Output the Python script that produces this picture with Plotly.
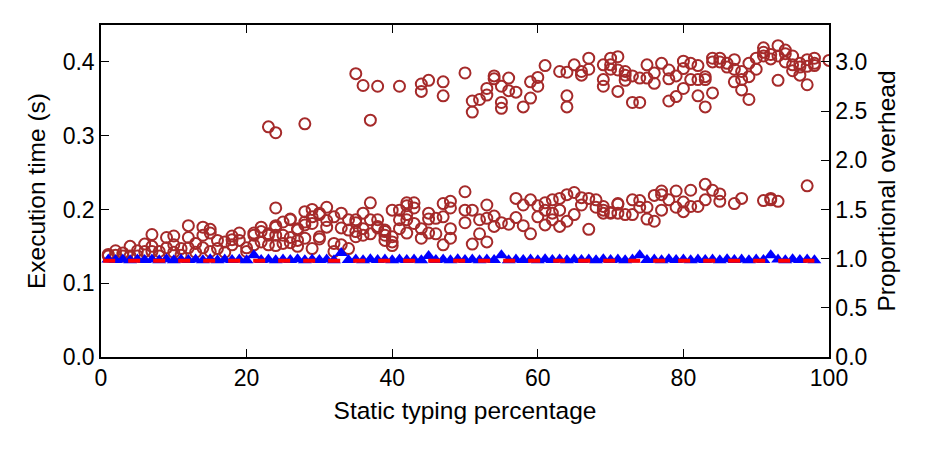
import plotly.graph_objects as go

# ---- data ----
# lower band of execution times (static typing %, seconds)
lower_band = [
    (1, 0.137), (1, 0.139), (2, 0.144), (2, 0.138), (3, 0.141), (3, 0.137),
    (4, 0.150), (4, 0.137), (5, 0.144), (5, 0.137), (6, 0.153), (6, 0.143),
    (7, 0.166), (7, 0.150), (7, 0.143), (8, 0.143), (8, 0.137), (9, 0.162), (9, 0.148),
    (10, 0.164), (10, 0.152), (10, 0.142), (11, 0.147), (11, 0.138),
    (12, 0.178), (12, 0.162), (12, 0.148), (13, 0.154), (13, 0.142),
    (14, 0.176), (14, 0.165), (14, 0.148), (15, 0.173), (15, 0.168), (15, 0.143),
    (16, 0.158), (16, 0.147), (17, 0.156), (17, 0.142),
    (18, 0.164), (18, 0.159), (18, 0.152), (19, 0.168), (19, 0.158),
    (20, 0.148), (20, 0.143), (21, 0.168), (21, 0.165), (21, 0.152),
    (22, 0.176), (22, 0.170), (22, 0.156), (23, 0.167), (23, 0.165), (23, 0.152),
    (24, 0.202), (24, 0.178), (24, 0.176), (24, 0.165), (24, 0.151),
    (25, 0.183), (25, 0.165), (25, 0.154),
    (26, 0.187), (26, 0.186), (26, 0.162), (26, 0.155),
    (27, 0.174), (27, 0.172), (27, 0.158), (27, 0.150),
    (28, 0.197), (28, 0.183), (28, 0.179), (28, 0.161),
    (29, 0.200), (29, 0.190), (29, 0.181), (29, 0.147),
    (30, 0.195), (30, 0.193), (30, 0.163), (30, 0.160),
    (31, 0.203), (31, 0.185), (31, 0.176), (32, 0.190), (32, 0.154), (32, 0.143),
    (33, 0.195), (33, 0.175), (33, 0.152), (34, 0.186), (34, 0.172), (34, 0.147),
    (35, 0.186), (35, 0.182), (35, 0.170), (35, 0.163),
    (36, 0.195), (36, 0.174), (36, 0.165), (37, 0.209), (37, 0.186), (37, 0.167),
    (38, 0.186), (38, 0.177), (38, 0.175),
    (39, 0.172), (39, 0.170), (39, 0.165), (39, 0.158),
    (40, 0.199), (40, 0.163), (40, 0.156), (40, 0.151),
    (41, 0.199), (41, 0.186), (41, 0.174),
    (42, 0.209), (42, 0.205), (42, 0.193), (42, 0.186), (42, 0.168),
    (43, 0.209), (43, 0.202), (43, 0.181), (44, 0.174), (44, 0.161),
    (45, 0.195), (45, 0.187), (45, 0.168), (46, 0.188), (46, 0.167),
    (47, 0.208), (47, 0.190), (47, 0.152),
    (48, 0.211), (48, 0.202), (48, 0.174), (48, 0.161),
    (50, 0.224), (50, 0.199), (50, 0.182), (51, 0.199), (51, 0.153),
    (52, 0.186), (52, 0.167), (53, 0.206), (53, 0.188), (53, 0.156),
    (54, 0.191), (54, 0.177), (55, 0.182), (56, 0.180),
    (57, 0.215), (57, 0.189), (58, 0.206), (58, 0.178), (59, 0.213), (59, 0.167),
    (60, 0.205), (60, 0.190), (61, 0.209), (61, 0.199), (61, 0.179),
    (62, 0.213), (62, 0.195), (62, 0.186), (63, 0.215), (63, 0.199), (63, 0.177),
    (64, 0.220), (64, 0.184), (65, 0.223), (65, 0.193), (66, 0.216), (66, 0.206),
    (67, 0.215), (67, 0.173), (68, 0.213), (68, 0.203),
    (69, 0.204), (69, 0.199), (69, 0.195), (70, 0.196), (70, 0.195),
    (71, 0.208), (71, 0.207), (71, 0.195), (72, 0.193), (73, 0.213), (73, 0.193),
    (74, 0.212), (74, 0.203), (75, 0.203), (75, 0.187), (76, 0.219), (76, 0.184),
    (77, 0.225), (77, 0.220), (77, 0.199), (78, 0.213), (79, 0.225), (79, 0.203),
    (80, 0.210), (80, 0.197), (81, 0.226), (81, 0.204), (82, 0.204),
    (83, 0.234), (83, 0.213), (84, 0.226), (85, 0.221), (85, 0.211),
    (87, 0.208), (88, 0.215), (91, 0.212), (92, 0.215), (92, 0.213), (93, 0.211),
    (97, 0.232),
]

# upper band of execution times (static typing %, seconds)
upper_band = [
    (23, 0.312), (24, 0.304), (28, 0.316), (35, 0.384), (36, 0.368), (37, 0.321),
    (38, 0.367), (41, 0.367), (44, 0.370), (44, 0.360), (45, 0.375),
    (47, 0.373), (47, 0.354), (50, 0.385), (51, 0.347), (51, 0.332), (52, 0.349),
    (53, 0.355), (53, 0.364), (54, 0.381), (54, 0.377),
    (55, 0.367), (55, 0.345), (55, 0.337), (56, 0.378), (56, 0.361), (57, 0.359),
    (58, 0.339), (59, 0.373), (59, 0.351), (60, 0.379), (60, 0.367), (61, 0.395),
    (63, 0.387), (64, 0.386), (64, 0.354), (64, 0.339), (65, 0.396),
    (66, 0.387), (66, 0.382), (67, 0.405), (67, 0.390),
    (69, 0.396), (69, 0.376), (69, 0.367), (70, 0.405), (70, 0.396), (70, 0.390),
    (71, 0.407), (71, 0.389), (71, 0.360), (72, 0.387), (72, 0.382), (72, 0.375),
    (73, 0.381), (73, 0.345), (74, 0.378), (74, 0.345), (75, 0.396), (75, 0.378),
    (76, 0.385), (76, 0.371), (77, 0.398), (78, 0.389), (78, 0.377), (78, 0.347),
    (79, 0.381), (79, 0.353), (80, 0.401), (80, 0.391), (80, 0.364),
    (81, 0.398), (81, 0.376), (82, 0.395), (82, 0.376), (82, 0.354),
    (83, 0.380), (83, 0.376), (83, 0.339), (84, 0.405), (84, 0.400), (84, 0.358),
    (85, 0.405), (85, 0.400), (86, 0.398), (86, 0.393),
    (87, 0.403), (87, 0.390), (87, 0.373), (88, 0.387), (88, 0.376), (88, 0.362),
    (89, 0.398), (89, 0.380), (89, 0.349), (90, 0.405), (90, 0.390),
    (91, 0.419), (91, 0.413), (91, 0.408), (92, 0.410), (92, 0.404),
    (93, 0.422), (93, 0.408), (93, 0.375), (94, 0.416), (94, 0.411), (94, 0.400),
    (95, 0.408), (95, 0.396), (95, 0.388), (96, 0.398), (96, 0.393), (96, 0.382),
    (97, 0.403), (97, 0.394), (97, 0.369), (98, 0.405), (98, 0.398), (98, 0.395),
    (100, 0.402),
]

# fully-typed / reference runs (blue triangles)
typed_x = list(range(1, 99))
typed_time = [
    0.132, 0.1315, 0.132, 0.131, 0.132, 0.1315, 0.132, 0.131, 0.1325, 0.131,
    0.132, 0.1315, 0.132, 0.131, 0.1325, 0.131, 0.132, 0.1315, 0.132, 0.131,
    0.138, 0.1315, 0.132, 0.131, 0.132, 0.1315, 0.1325, 0.131, 0.132, 0.1315,
    0.132, 0.131, 0.141, 0.1315, 0.132, 0.131, 0.1325, 0.1315, 0.132, 0.131,
    0.132, 0.1315, 0.132, 0.131, 0.137, 0.1315, 0.132, 0.131, 0.1325, 0.1315,
    0.132, 0.131, 0.132, 0.1315, 0.138, 0.131, 0.132, 0.1315, 0.132, 0.131,
    0.1325, 0.1315, 0.132, 0.131, 0.132, 0.1315, 0.132, 0.131, 0.1325, 0.1315,
    0.132, 0.131, 0.132, 0.138, 0.1315, 0.132, 0.131, 0.1325, 0.1315, 0.132,
    0.131, 0.132, 0.1315, 0.132, 0.131, 0.1325, 0.1315, 0.132, 0.131, 0.132,
    0.1315, 0.138, 0.132, 0.131, 0.1325, 0.1315, 0.132, 0.131,
]

# untyped baseline (red dashed line)
baseline_x = [0.3, 98]
baseline_time = [0.1305, 0.1305]

# axes
x_ticks = [0, 20, 40, 60, 80, 100]
left_ticks = [0.0, 0.1, 0.2, 0.3, 0.4]
right_ticks = [0.0, 0.5, 1.0, 1.5, 2.0, 2.5, 3.0]
left_range = [0, 0.45]
right_range = [0, 3.375]

FONT = "Liberation Sans, Arial, Helvetica, sans-serif"
BROWN = "#A52A2A"
TITLE_FONT = dict(family=FONT, size=24.5, color="black")

fig = go.Figure()
fig.add_trace(go.Scatter(
    x=[p[0] for p in lower_band], y=[p[1] for p in lower_band],
    mode="markers", showlegend=False,
    marker=dict(symbol="circle-open", size=11, color=BROWN, line=dict(width=2, color=BROWN)),
))
fig.add_trace(go.Scatter(
    x=[p[0] for p in upper_band], y=[p[1] for p in upper_band],
    mode="markers", showlegend=False,
    marker=dict(symbol="circle-open", size=11, color=BROWN, line=dict(width=2, color=BROWN)),
))
fig.add_trace(go.Scatter(
    x=typed_x, y=typed_time, mode="markers", showlegend=False,
    marker=dict(symbol="triangle-up", size=12, color="blue", line=dict(width=0)),
))
fig.add_trace(go.Scatter(
    x=baseline_x, y=baseline_time, mode="lines", showlegend=False,
    line=dict(color="red", width=4, dash="12px,13px"),
))
fig.add_trace(go.Scatter(x=[], y=[], yaxis="y2", showlegend=False))

axis_common = dict(
    showgrid=False, zeroline=False, showline=True, linecolor="black", linewidth=1.5,
    ticks="inside", ticklen=8, tickwidth=1.2, tickcolor="black",
    tickfont=dict(family=FONT, size=23, color="black"),
)

fig.update_layout(
    width=930, height=450,
    margin=dict(l=101, r=101, t=25, b=93),
    paper_bgcolor="white", plot_bgcolor="white",
    xaxis=dict(range=[0, 100], tickvals=x_ticks, mirror="ticks",
               title=dict(text="Static typing percentage", font=TITLE_FONT, standoff=12),
               **axis_common),
    yaxis=dict(range=left_range, tickvals=left_ticks, tickformat=".1f", mirror=True,
               title=dict(text="Execution time (s)", font=TITLE_FONT, standoff=10),
               **axis_common),
    yaxis2=dict(range=right_range, tickvals=right_ticks, tickformat=".1f", overlaying="y", side="right",
                title=dict(text="Proportional overhead", font=TITLE_FONT, standoff=12),
                **axis_common),
)

fig.write_html("out.html")
